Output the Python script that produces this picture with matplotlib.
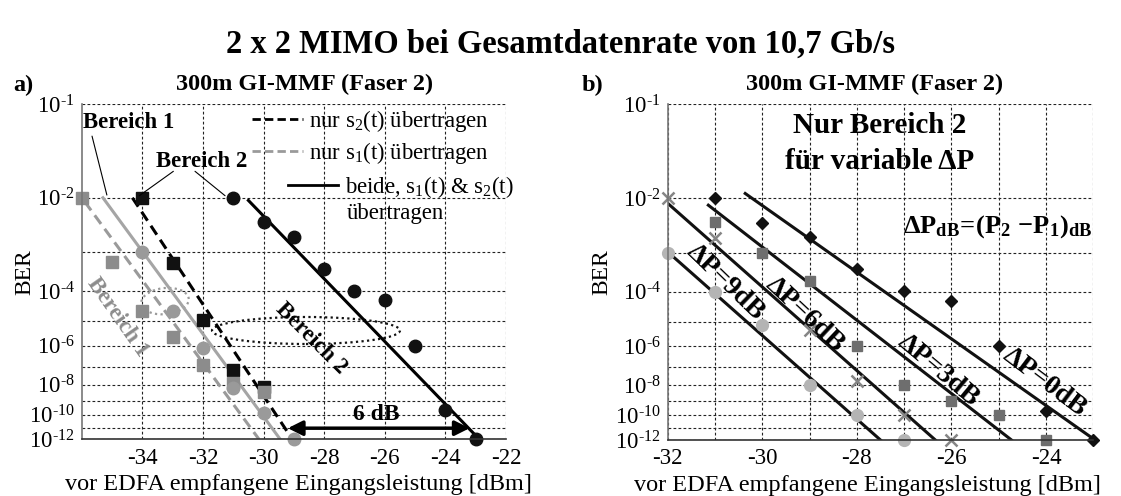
import numpy as np
import matplotlib
matplotlib.use("Agg")
import matplotlib.pyplot as plt
from matplotlib.patches import Ellipse
from matplotlib.ticker import FixedLocator, NullFormatter

plt.rcParams['font.family'] = ['Liberation Serif', 'DejaVu Serif']
plt.rcParams['mathtext.fontset'] = 'custom'
plt.rcParams['mathtext.rm'] = 'Liberation Serif'
plt.rcParams['mathtext.it'] = 'Liberation Serif:italic'
plt.rcParams['mathtext.bf'] = 'Liberation Serif:bold'
plt.rcParams['axes.unicode_minus'] = False

# BER werte als Exponent n (BER = 10^-n)
# a) 300m GI-MMF, Bereich 1 / Bereich 2
x_s2 = [-34, -33, -32, -31, -30]
n_s2 = [2.0, 3.25, 4.95, 7.2, 8.15]
x_s1 = [-36, -35, -34, -33, -32, -31, -30]
n_s1 = [2.0, 3.21, 4.62, 5.63, 6.91, 7.92, 8.43]
x_beide_s1 = [-34, -33, -32, -31, -30, -29]
n_beide_s1 = [3.0, 4.65, 6.1, 8.2, 9.89, 12.0]
x_beide = [-31, -30, -29, -28, -27, -26, -25, -24, -23]
n_beide = [2.0, 2.39, 2.68, 3.39, 3.98, 4.27, 5.99, 9.65, 12.0]

# Ausgleichsgeraden a)
fit_s2_x, fit_s2_n = [-34.33, -29.05], [2.0, 12.0]
fit_s1_x, fit_s1_n = [-35.9, -30.15], [2.06, 12.0]
fit_beide_s1_x, fit_beide_s1_n = [-35.3, -29.45], [2.0, 12.0]
fit_beide_x, fit_beide_n = [-30.5, -22.88], [2.04, 12.0]

# b) Bereich 2 fuer variable Delta P
x_dp0 = [-31, -30, -29, -28, -27, -26, -25, -24, -23]
n_dp0 = [2.0, 2.41, 2.68, 3.39, 3.98, 4.29, 6.0, 9.7, 12.0]
x_dp3 = [-31, -30, -29, -28, -27, -26, -25, -24]
n_dp3 = [2.39, 3.0, 3.7, 6.0, 8.0, 9.0, 9.94, 12.0]
x_dp6 = [-32, -31, -29, -28, -27, -26]
n_dp6 = [2.0, 2.7, 5.33, 7.73, 9.94, 12.0]
x_dp9 = [-32, -31, -30, -29, -28, -27]
n_dp9 = [3.0, 4.0, 5.14, 8.0, 9.94, 12.0]

fit_dp_x = {0: [-30.36, -23.05], 3: [-31.14, -24.73], 6: [-32.0, -26.34], 9: [-32.0, -27.5]}
fit_dp_n = {0: [1.935, 11.75], 3: [2.11, 12.0], 6: [2.08, 12.0], 9: [2.98, 12.0]}

ber_major = [1, 2, 4, 6, 8, 10, 12]
ber_minor = [3, 5, 7, 9, 11]


def ber(n):
    return 10.0 ** (-np.asarray(n, dtype=float))


def fwd(b):
    b = np.clip(np.asarray(b, dtype=float), 1e-300, 0.999999)
    return -np.log10(-np.log10(b))


def inv(y):
    return 10.0 ** (-(10.0 ** (-np.asarray(y, dtype=float))))


def setup_axis(ax, xlim, xmajor, xminor):
    ax.set_yscale('function', functions=(fwd, inv))
    ax.set_ylim(1e-12, 1e-1)
    ax.set_xlim(*xlim)
    ax.yaxis.set_major_locator(FixedLocator(ber(ber_major)))
    ax.yaxis.set_major_formatter(plt.FixedFormatter([r'$10^{\text{-%d}}$' % n for n in ber_major]))
    ax.yaxis.set_minor_locator(FixedLocator(ber(ber_minor)))
    ax.yaxis.set_minor_formatter(NullFormatter())
    ax.set_xticks(xmajor)
    ax.set_xticks(xminor, minor=True)
    ax.tick_params(which='both', length=0, labelsize=16.5)
    ax.tick_params(axis='y', pad=5)
    ax.tick_params(axis='x', pad=6)
    ax.grid(True, which='both', linestyle=(0, (2.5, 2)), color='#222222', linewidth=0.8)
    ax.set_axisbelow(True)
    ax.spines['top'].set_visible(False)
    ax.spines['right'].set_visible(False)
    ax.spines['left'].set_color('#777777')
    ax.spines['bottom'].set_color('#333333')
    ax.spines['left'].set_linewidth(1.2)
    ax.spines['bottom'].set_linewidth(1.2)
    ax.set_ylabel('BER', fontsize=17)
    ax.set_xlabel('vor EDFA empfangene Eingangsleistung [dBm]', fontsize=17.5)


fig = plt.figure(figsize=(11.21, 4.96), dpi=100)
ax1 = fig.add_axes([0.0729, 0.1143, 0.3785, 0.6754])
ax2 = fig.add_axes([0.5956, 0.1129, 0.3797, 0.6768])

# ---------------- a) ----------------
setup_axis(ax1, (-36, -22), [-34, -32, -30, -28, -26, -24, -22], [])

grau = '#9a9a9a'
ax1.plot(fit_s1_x, ber(fit_s1_n), color=grau, lw=2.2, ls=(0, (3.5, 2)))
ax1.plot(fit_beide_s1_x, ber(fit_beide_s1_n), color='#a5a5a5', lw=2.2)
ax1.plot(fit_s2_x, ber(fit_s2_n), color='black', lw=2.2, ls=(0, (3.5, 2)))
ax1.plot(fit_beide_x, ber(fit_beide_n), color='black', lw=2.2)

ax1.plot(x_s2, ber(n_s2), 's', color='#111111', ms=8, clip_on=False)
ax1.plot(x_s1, ber(n_s1), 's', color='#8c8c8c', ms=8, clip_on=False)
ax1.plot(x_beide_s1, ber(n_beide_s1), 'o', color='#9a9a9a', ms=9, clip_on=False)
ax1.plot(x_beide, ber(n_beide), 'o', color='#111111', ms=9, clip_on=False)

# Legende
l1, = ax1.plot([], [], color='black', lw=2, ls=(0, (3, 1.5)))
l2, = ax1.plot([], [], color=grau, lw=2, ls=(0, (3, 1.5)))
l3, = ax1.plot([], [], color='black', lw=2)
leg1 = ax1.legend([l1, l2], ['nur s$_2$(t) übertragen', 'nur s$_1$(t) übertragen'],
                  loc='upper left', bbox_to_anchor=(0.397, 0.995), frameon=False,
                  fontsize=16.4, handlelength=2.2, handletextpad=0.3, borderpad=0.1,
                  labelspacing=0.25, borderaxespad=0)
ax1.add_artist(leg1)
ax1.legend([l3], ['beide, s$_1$(t) & s$_2$(t)'],
           loc='upper left', bbox_to_anchor=(0.48, 0.8), frameon=False,
           fontsize=16.4, handlelength=2.2, handletextpad=0.3, borderpad=0.1, borderaxespad=0)
ax1.text(0.6245, 0.675, 'übertragen', transform=ax1.transAxes, fontsize=16.4,
         ha='left', va='center')

# Bereich-Beschriftungen
ax1.text(0.003, 0.9445, 'Bereich 1', transform=ax1.transAxes, fontsize=16.4,
         fontweight='bold', ha='left', va='center')
ax1.annotate('', xy=(-36.06, ber(2.0)), xytext=(0.0243, 0.905), textcoords='axes fraction',
             arrowprops=dict(arrowstyle='-', lw=0.8, color='black', shrinkA=0, shrinkB=0))
ax1.annotate('', xy=(-35.17, ber(1.96)), xytext=(0.0243, 0.905), textcoords='axes fraction',
             arrowprops=dict(arrowstyle='-', lw=0.8, color='black', shrinkA=0, shrinkB=0))
ax1.text(0.175, 0.828, 'Bereich 2', transform=ax1.transAxes, fontsize=16.4,
         fontweight='bold', ha='left', va='center')
ax1.annotate('', xy=(-34.1, ber(1.97)), xytext=(0.216, 0.800), textcoords='axes fraction',
             arrowprops=dict(arrowstyle='-', lw=0.8, color='black', shrinkA=0, shrinkB=0))
ax1.annotate('', xy=(-31.27, ber(1.97)), xytext=(0.267, 0.800), textcoords='axes fraction',
             arrowprops=dict(arrowstyle='-', lw=0.8, color='black', shrinkA=0, shrinkB=0))

ax1.text(0.0856, 0.3654, 'Bereich 1', transform=ax1.transAxes, fontsize=16.4,
         fontweight='bold', color='#8c8c8c', rotation=-55, ha='center', va='center',
         rotation_mode='anchor')
ax1.text(0.542, 0.3024, 'Bereich 2', transform=ax1.transAxes, fontsize=16.4,
         fontweight='bold', rotation=-45, ha='center', va='center', rotation_mode='anchor')

ax1.add_patch(Ellipse((0.5286, 0.3248), 0.443, 0.0806, transform=ax1.transAxes,
                      fill=False, ls=(0, (1, 1.5)), lw=1.6, color='#111111'))
ax1.add_patch(Ellipse((0.1963, 0.4125), 0.113, 0.0776, angle=10, transform=ax1.transAxes,
                      fill=False, ls=(0, (1, 1.5)), lw=1.6, color='#9a9a9a'))

# 6 dB Abstand
ax1.annotate('', xy=(-23.2, ber(11.05)), xytext=(-29.2, ber(11.05)),
             arrowprops=dict(arrowstyle='<|-|>', lw=2.5, color='black',
                             mutation_scale=22, shrinkA=0, shrinkB=0))
ax1.text(0.695, 0.0755, '6 dB', transform=ax1.transAxes, fontsize=17,
         fontweight='bold', ha='center', va='center')

# ---------------- b) ----------------
setup_axis(ax2, (-32, -23), [-32, -30, -28, -26, -24], list(range(-31, -22)))

for k in (0, 3, 6, 9):
    ax2.plot(fit_dp_x[k], ber(fit_dp_n[k]), color='#111111', lw=2.2)

ax2.plot(x_dp0, ber(n_dp0), 'D', color='#111111', ms=6.5, clip_on=False)
ax2.plot(x_dp3, ber(n_dp3), 's', color='#6e6e6e', ms=7.5, clip_on=False)
ax2.plot(x_dp6, ber(n_dp6), 'x', color='#858585', ms=9, mew=1.8, clip_on=False)
ax2.plot(x_dp9, ber(n_dp9), 'o', color='#b4b4b4', ms=8.5, clip_on=False)

ax2.text(0.4988, 0.9381, 'Nur Bereich 2', transform=ax2.transAxes, fontsize=21,
         fontweight='bold', ha='center', va='center')
ax2.text(0.4988, 0.829, 'für variable ΔP', transform=ax2.transAxes, fontsize=21,
         fontweight='bold', ha='center', va='center')
ax2.text(0.775, 0.6354, r'$\mathbf{\Delta P_{dB}\!=\!(P_2\ \!-\!P_1)_{dB}}$',
         transform=ax2.transAxes, fontsize=19, ha='center', va='center')

for lab, fx, fy, rot in [('ΔP=9dB', 0.136, 0.469, -44), ('ΔP=6dB', 0.3226, 0.3724, -43),
                         ('ΔP=3dB', 0.635, 0.2085, -40), ('ΔP=0dB', 0.8846, 0.1728, -37)]:
    ax2.text(fx, fy, lab, transform=ax2.transAxes, fontsize=20, fontweight='bold',
             rotation=rot, ha='center', va='center', rotation_mode='anchor')

# Achsbeschriftungen positionieren
ax1.yaxis.set_label_coords(-0.11, 0.5)
ax2.yaxis.set_label_coords(-0.13, 0.5)
ax1.xaxis.set_label_coords(0.51, -0.105)
ax2.xaxis.set_label_coords(0.47, -0.105)

# Titel
fig.text(0.4996, 0.911, '2 x 2 MIMO bei Gesamtdatenrate von 10,7 Gb/s', fontsize=23.5,
         fontweight='bold', ha='center', va='center')
fig.text(0.272, 0.829, '300m GI-MMF (Faser 2)', fontsize=17.5, fontweight='bold',
         ha='center', va='center')
fig.text(0.7806, 0.829, '300m GI-MMF (Faser 2)', fontsize=17.5, fontweight='bold',
         ha='center', va='center')
fig.text(0.0205, 0.8286, 'a)', fontsize=17.5, fontweight='bold', ha='center', va='center')
fig.text(0.529, 0.8286, 'b)', fontsize=17.5, fontweight='bold', ha='center', va='center')

fig.savefig('out.png', dpi=100)
